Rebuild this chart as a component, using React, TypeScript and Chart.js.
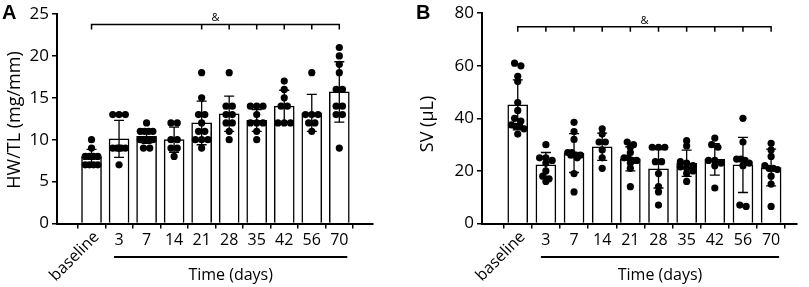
import React, { useEffect, useRef } from "react";
import { Chart, registerables } from "chart.js";

Chart.register(...registerables);

// ---------- data ----------
const categories = ["baseline", "3", "7", "14", "21", "28", "35", "42", "56", "70"];

const hwtlPoints: number[][] = [
  [10, 9, 8, 8, 8, 8, 7, 7, 7, 7],
  [13, 13, 13, 9, 9, 9, 9, 9, 7],
  [12, 11, 11, 11, 11, 10, 10, 10, 10, 9, 9],
  [12, 12, 10, 10, 9, 9, 8],
  [18, 15, 13, 13, 12, 11, 11, 10, 10, 10, 9],
  [18, 14, 14, 13, 13, 12, 12, 11, 10],
  [14, 14, 14, 13, 12, 12, 12, 11, 10],
  [17, 16, 15, 14, 14, 12, 12, 12],
  [18, 13, 13, 13, 12, 12, 11],
  [21, 20, 19, 18, 16, 16, 14, 14, 13, 13, 9],
];
const hwtlMean = [8.0, 10.1, 10.4, 10.0, 12.0, 13.1, 12.3, 14.0, 13.2, 15.7];
const hwtlSD = [0.85, 2.2, 0.85, 1.5, 2.6, 2.1, 1.3, 1.9, 2.2, 3.6];
const hwtlTicks = [0, 5, 10, 15, 20, 25];
const hwtlBracketTicks = [0, 4, 5, 6, 7, 8, 9];

const svPoints: number[][] = [
  [61, 60, 56, 54, 46, 43, 40, 39, 37.5, 37, 37, 36, 34],
  [30, 25, 25, 24, 23, 20, 18, 17, 16],
  [38.5, 35, 32, 27, 27, 26, 26, 26, 25, 19, 12],
  [36, 34, 31, 31, 28, 25, 21],
  [31, 30, 29, 27, 25, 25, 24, 24, 23, 21, 14],
  [29, 29, 29, 23.5, 23.5, 19, 14, 12, 7],
  [31.5, 29.5, 23.5, 23, 22, 21.5, 21, 20, 19, 16],
  [32.5, 30, 29, 24, 24, 23, 22, 13.5],
  [40, 31, 24.5, 24.5, 24, 23, 22, 7, 6.5],
  [30.5, 28, 25.5, 22, 21, 21, 20.5, 18, 15, 6.5],
];
const svMean = [45.1, 22.3, 26.8, 29.2, 24.6, 20.8, 22.9, 24.4, 22.3, 21.3];
const svSD = [9.5, 4.7, 7.4, 5.2, 4.6, 7.3, 5.0, 6.0, 10.5, 7.0];
const svTicks = [0, 20, 40, 60, 80];
const svBracketTicks = [0, 1, 2, 3, 4, 5, 6, 7, 8, 9];

const FONT = "'Open Sans', 'DejaVu Sans', sans-serif";

// simple beeswarm: rows of near-equal values, centred on the category
function swarm(groups: number[][], pxPerUnit: number, pxPerCat: number, diam: number) {
  const out: { x: number; y: number }[] = [];
  groups.forEach((vals, gi) => {
    const sorted = [...vals].sort((a, b) => b - a);
    let i = 0;
    while (i < sorted.length) {
      const row = [sorted[i]];
      let j = i + 1;
      while (j < sorted.length && row.length < 4 && (sorted[i] - sorted[j]) * pxPerUnit < diam * 0.75) {
        row.push(sorted[j]);
        j++;
      }
      const n = row.length;
      const step = n > 1 ? Math.min(diam, 14 / (n - 1)) : 0;
      row.forEach((v, k) => out.push({ x: gi + ((k - (n - 1) / 2) * step) / pxPerCat, y: v }));
      i = j;
    }
  });
  return out;
}

type PanelCfg = {
  letter: string;
  points: number[][];
  mean: number[];
  sd: number[];
  ticks: number[];
  yTitle: string;
  yMax: number;
  xMin: number;
  xMax: number;
  axisLeft: number;
  padRight: number;
  padTop: number;
  titleX: number;
  titleY: number;
  bracketVal: number;
  bracketTicks: number[];
  pxPerUnit: number;
  pxPerCat: number;
  width: number;
};

function makePlugin(cfg: PanelCfg) {
  return {
    id: "decor" + cfg.letter,
    afterDatasetDraw(chart: any, args: any) {
      if (args.index !== 0) return;
      const ctx = chart.ctx;
      const xs = chart.scales.x;
      const ys = chart.scales.y;
      ctx.save();
      ctx.strokeStyle = "#000";
      ctx.lineWidth = 1.3;
      cfg.mean.forEach((m, i) => {
        const x = xs.getPixelForValue(i);
        const yt = ys.getPixelForValue(m + cfg.sd[i]);
        const yb = ys.getPixelForValue(m - cfg.sd[i]);
        ctx.beginPath();
        ctx.moveTo(x, yt);
        ctx.lineTo(x, yb);
        ctx.moveTo(x - 5, yt);
        ctx.lineTo(x + 5, yt);
        ctx.moveTo(x - 5, yb);
        ctx.lineTo(x + 5, yb);
        ctx.stroke();
      });
      ctx.restore();
    },
    afterDraw(chart: any) {
      const ctx = chart.ctx;
      const xs = chart.scales.x;
      const ys = chart.scales.y;
      const area = chart.chartArea;
      ctx.save();
      ctx.strokeStyle = "#000";
      ctx.fillStyle = "#000";
      // bracket
      const by = ys.getPixelForValue(cfg.bracketVal);
      const bx0 = xs.getPixelForValue(cfg.bracketTicks[0]);
      const bx1 = xs.getPixelForValue(cfg.bracketTicks[cfg.bracketTicks.length - 1]);
      ctx.lineWidth = 1.5;
      ctx.beginPath();
      ctx.moveTo(bx0, by);
      ctx.lineTo(bx1, by);
      cfg.bracketTicks.forEach((t) => {
        const x = xs.getPixelForValue(t);
        ctx.moveTo(x, by - 0.75);
        ctx.lineTo(x, by + 5);
      });
      ctx.stroke();
      ctx.font = `11px ${FONT}`;
      ctx.textAlign = "center";
      ctx.textBaseline = "bottom";
      ctx.fillText("&", (bx0 + bx1) / 2, by - 1);
      // y-axis title
      ctx.save();
      ctx.translate(cfg.titleX, cfg.titleY);
      ctx.rotate(-Math.PI / 2);
      ctx.font = `18px ${FONT}`;
      ctx.textAlign = "center";
      ctx.textBaseline = "middle";
      ctx.fillText(cfg.yTitle, 0, 0);
      ctx.restore();
      // baseline label (rotated)
      const x0 = xs.getPixelForValue(0);
      ctx.font = `16px ${FONT}`;
      ctx.save();
      ctx.translate(x0 + 5, area.bottom + 11);
      ctx.rotate(-Math.PI / 4);
      ctx.textAlign = "right";
      ctx.textBaseline = "middle";
      ctx.fillText(categories[0], 0, 0);
      ctx.restore();
      // underline for time points
      const ux0 = xs.getPixelForValue(1) - 5;
      const ux1 = xs.getPixelForValue(categories.length - 1) + 8;
      ctx.lineWidth = 1.8;
      ctx.beginPath();
      ctx.moveTo(ux0, area.bottom + 33.5);
      ctx.lineTo(ux1, area.bottom + 33.5);
      ctx.stroke();
      ctx.font = `16px ${FONT}`;
      ctx.textAlign = "center";
      ctx.textBaseline = "middle";
      ctx.fillText("Time (days)", (ux0 + ux1) / 2, area.bottom + 52);
      // panel letter
      ctx.font = `bold 20px 'Liberation Sans', Arial, sans-serif`;
      ctx.textAlign = "left";
      ctx.textBaseline = "top";
      ctx.fillText(cfg.letter, cfg.letter === "A" ? 2 : 16, 3);
      ctx.restore();
    },
  };
}

function Panel({ cfg }: { cfg: PanelCfg }) {
  const ref = useRef<HTMLCanvasElement | null>(null);
  useEffect(() => {
    if (!ref.current) return;
    const pts = swarm(cfg.points, cfg.pxPerUnit, cfg.pxPerCat, 7);
    const chart = new Chart(ref.current, {
      type: "bar",
      data: {
        datasets: [
          {
            type: "bar",
            data: cfg.mean.map((m, i) => ({ x: i, y: m })),
            backgroundColor: "#fff",
            borderColor: "#000",
            borderWidth: 1.5,
            barThickness: 20,
            order: 2,
          } as any,
          {
            type: "scatter",
            data: pts,
            pointRadius: 3.6,
            pointBackgroundColor: "#000",
            pointBorderWidth: 0,
            order: 1,
          } as any,
        ],
      },
      options: {
        animation: false,
        responsive: false,
        maintainAspectRatio: false,
        layout: { padding: { top: cfg.padTop, right: cfg.padRight, left: 0, bottom: 0 } },
        plugins: { legend: { display: false }, tooltip: { enabled: false } },
        scales: {
          x: {
            type: "linear",
            min: cfg.xMin,
            max: cfg.xMax,
            afterBuildTicks: (s: any) => {
              s.ticks = categories.map((_, i) => ({ value: i }));
            },
            afterFit: (s: any) => {
              s.height = 287 - 223.5;
            },
            grid: { drawOnChartArea: false, drawTicks: true, tickLength: 5, color: "#000", lineWidth: 1.5 },
            border: { color: "#000", width: 2 },
            ticks: {
              autoSkip: false,
              maxRotation: 0,
              minRotation: 0,
              padding: 2,
              color: "#000",
              font: { family: FONT, size: 16 },
              callback: (v: any) => (v === 0 ? "" : categories[v]),
            },
          },
          y: {
            min: 0,
            max: cfg.yMax,
            afterBuildTicks: (s: any) => {
              s.ticks = cfg.ticks.map((t) => ({ value: t }));
            },
            afterFit: (s: any) => {
              s.width = cfg.axisLeft;
            },
            grid: { drawOnChartArea: false, drawTicks: true, tickLength: 5, color: "#000", lineWidth: 1.5 },
            border: { color: "#000", width: 2 },
            ticks: { padding: 3, color: "#000", font: { family: FONT, size: 17 } },
          },
        },
      },
      plugins: [makePlugin(cfg)],
    } as any);
    return () => chart.destroy();
  }, [cfg]);
  return <canvas ref={ref} width={cfg.width} height={287} style={{ width: cfg.width, height: 287, display: "block" }} />;
}

const panelA: PanelCfg = {
  letter: "A",
  points: hwtlPoints,
  mean: hwtlMean,
  sd: hwtlSD,
  ticks: hwtlTicks,
  yTitle: "HW/TL (mg/mm)",
  yMax: 25,
  xMin: -0.68,
  xMax: 9.65,
  axisLeft: 57,
  padRight: 27,
  padTop: 14,
  titleX: 15,
  titleY: 120,
  bracketVal: 23.75,
  bracketTicks: hwtlBracketTicks,
  pxPerUnit: 8.37,
  pxPerCat: 30.6,
  width: 400,
};

const panelB: PanelCfg = {
  letter: "B",
  points: svPoints,
  mean: svMean,
  sd: svSD,
  ticks: svTicks,
  yTitle: "SV (μL)",
  yMax: 80,
  xMin: -0.71,
  xMax: 9.36,
  axisLeft: 82,
  padRight: 12,
  padTop: 9.5,
  titleX: 28,
  titleY: 124,
  bracketVal: 74.8,
  bracketTicks: svBracketTicks,
  pxPerUnit: 2.696,
  pxPerCat: 31.3,
  width: 409,
};

export default function App() {
  return (
    <div style={{ position: "absolute", left: 0, top: 0, width: 809, height: 287, background: "#fff", display: "flex" }}>
      <Panel cfg={panelA} />
      <Panel cfg={panelB} />
    </div>
  );
}
